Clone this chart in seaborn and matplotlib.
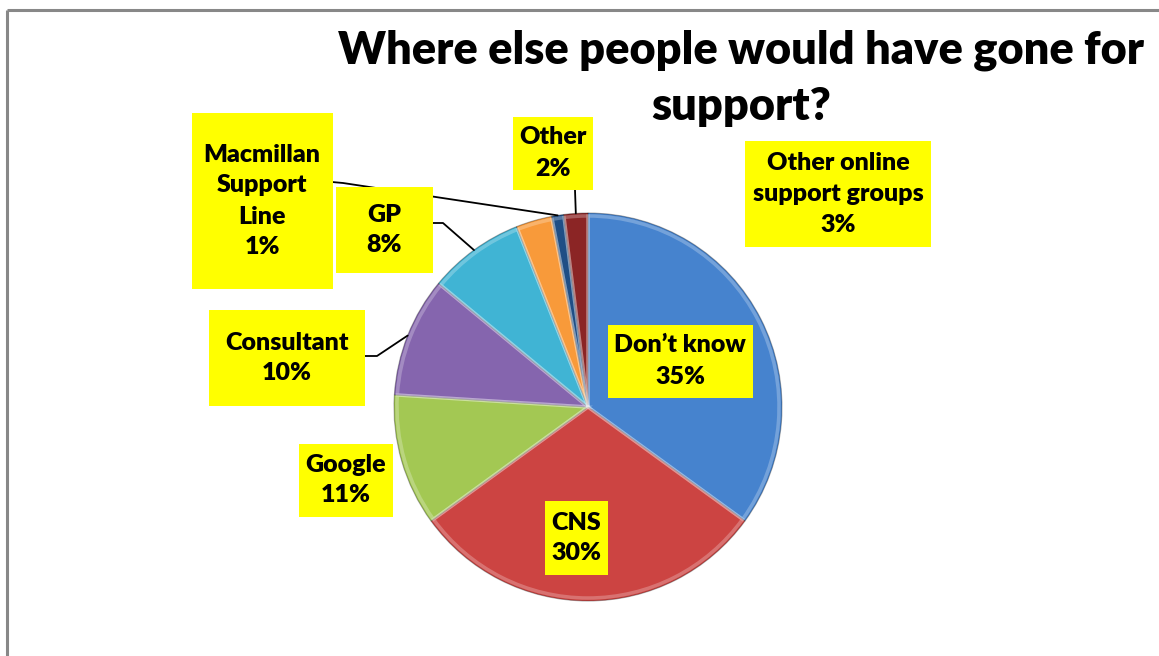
import matplotlib
matplotlib.use("Agg")
import matplotlib.pyplot as plt
import seaborn as sns
import numpy as np
from matplotlib.patches import Rectangle

# ---- data ----
categories = ["Don\u2019t know", "CNS", "Google", "Consultant", "GP",
              "Other online\nsupport groups", "Macmillan\nSupport\nLine", "Other"]
values = [35, 30, 11, 10, 8, 3, 1, 2]
colors = ["#4683CE", "#CC4442", "#A3C853", "#8565AE", "#40B4D4",
          "#F89A3A", "#1F4E85", "#8B2525"]
title = "Where else people would have gone for\nsupport?"

# ---- layout (pixel space, y measured from top) ----
W, H = 1159, 656
center_px = (588, 407)
radius = 194
# label box: (center x, center y, width, height)
boxes = [(680, 361, 145, 73), (576, 538, 63, 74), (346, 480, 94, 73),
         (287, 358, 156, 96), (384, 230, 97, 86), (838, 194, 186, 106),
         (262, 201, 141, 176), (553, 153, 80, 73)]
leaders = {3: [(365, 356), (377, 356)], 4: [(432, 223), (443, 223)],
           6: [(332, 182), (343, 183)], 7: [(575, 190)]}

sns.set_theme(style="white")
plt.rcParams["font.family"] = ["Lato", "DejaVu Sans"]

fig = plt.figure(figsize=(W / 100, H / 100), dpi=100)
ax = fig.add_axes([0, 0, 1, 1])

cx, cy = center_px[0], H - center_px[1]
wedges, _ = ax.pie(values, colors=colors, startangle=90, counterclock=False,
                   center=(cx, cy), radius=radius,
                   wedgeprops=dict(edgecolor=(0, 0, 0, 0.3), linewidth=0.8))
# light bevel rim
ax.pie(values, colors=["none"] * len(values), startangle=90, counterclock=False,
       center=(cx, cy), radius=radius - 3,
       wedgeprops=dict(edgecolor=(1, 1, 1, 0.25), linewidth=2.5, fill=False))

ax.set_xlim(0, W)
ax.set_ylim(0, H)
ax.set_aspect("equal")
ax.axis("off")

# frame lines (left and top)
ax.plot([7, 7], [0, H - 10], color="#888888", lw=2.2, solid_capstyle="butt")
ax.plot([7, W], [H - 10, H - 10], color="#888888", lw=2.2, solid_capstyle="butt")

total = sum(values)
cum = np.cumsum([0] + values)
for i, (lab, v) in enumerate(zip(categories, values)):
    bx, by, bw, bh = boxes[i]
    ax.add_patch(Rectangle((bx - bw / 2, H - by - bh / 2), bw, bh,
                           facecolor="#FFFF00", edgecolor="none", zorder=4))
    ax.text(bx, H - by, f"{lab}\n{v}%", ha="center", va="center",
            fontsize=18, fontweight="heavy", color="black",
            linespacing=1.5, zorder=5)
    if i in leaders:
        frac = (cum[i] + v / 2) / total
        ang = np.deg2rad(90 - 360 * frac)
        ex, ey = cx + radius * np.cos(ang), cy + radius * np.sin(ang)
        pts = [(x, H - y) for x, y in leaders[i]] + [(ex, ey)]
        ax.plot([p[0] for p in pts], [p[1] for p in pts], color="black",
                lw=1.3, zorder=3)

ax.text(741, H - 78, title, ha="center", va="center", fontsize=32.5,
        fontweight="heavy", color="black", linespacing=1.45)

fig.savefig("out.png", dpi=100)
